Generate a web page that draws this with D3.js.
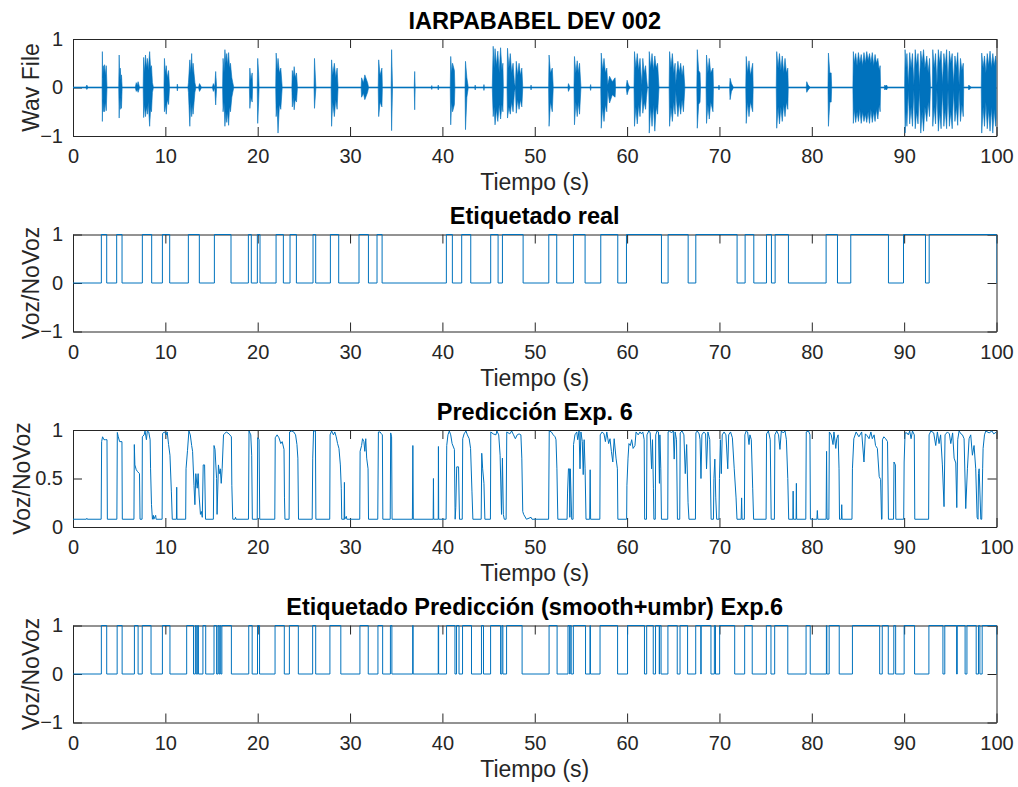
<!DOCTYPE html>
<html><head><meta charset="utf-8">
<script src="https://cdn.jsdelivr.net/npm/d3@7"></script>
<style>body{margin:0;background:#fff}svg{display:block}text{font-family:"Liberation Sans",Arial,Helvetica,sans-serif}</style>
</head><body><svg id="c" width="1018" height="787"></svg>
<script>
// ---------------- DATA ----------------
const xTicks = [0,10,20,30,40,50,60,70,80,90,100];
const yTicksWave = [-1,0,1];
const yTicksLabel = [-1,0,1];
const yTicksPred = [0,0.5,1];
const titles = ["IARPABABEL DEV 002","Etiquetado real","Predicción Exp. 6","Etiquetado Predicción (smooth+umbr) Exp.6"];
const yLabels = ["Wav File","Voz/NoVoz","Voz/NoVoz","Voz/NoVoz"];
const xLabel = "Tiempo (s)";

// waveform envelope: [time, max, min]
const wavEnvelope = [
[0,.01,-.01],[1.4,.01,-.01],[1.5,.05,-.04],[1.6,.01,-.01],
[3.15,.01,-.01],[3.18,.74,-.70],[3.22,.2,-.25],[3.28,.45,-.5],[3.35,.3,-.3],[3.42,.47,-.5],[3.5,.25,-.3],[3.6,.45,-.48],[3.68,.01,-.01],
[4.95,.01,-.01],[5.0,.67,-.63],[5.05,.2,-.2],[5.12,.4,-.45],[5.18,.15,-.2],[5.25,.26,-.43],[5.32,.01,-.01],
[6.75,.01,-.01],[6.85,.1,-.08],[6.95,.04,-.04],[7.05,.12,-.1],[7.2,.01,-.01],
[7.6,.01,-.01],[7.65,.62,-.62],[7.75,.3,-.35],[7.85,.67,-.6],[7.95,.4,-.4],[8.05,.6,-.55],[8.15,.35,-.3],[8.3,.74,-.8],[8.4,.4,-.45],[8.5,.45,-.5],[8.6,.1,-.1],[8.7,.01,-.01],
[9.85,.01,-.01],[9.9,.6,-.5],[10.0,.3,-.35],[10.1,.45,-.55],[10.2,.2,-.25],[10.35,.35,-.35],[10.45,.01,-.01],
[11.25,.01,-.01],[11.3,.07,-.07],[11.35,.01,-.01],
[12.45,.01,-.01],[12.5,.1,-.1],[12.65,.57,-.8],[12.75,.3,-.3],[12.85,.7,-.6],[12.92,.3,-.35],[13.0,.5,-.55],[13.2,.1,-.1],[13.3,.01,-.01],
[13.6,.01,-.01],[13.7,.08,-.08],[13.9,.01,-.01],
[15.1,.01,-.01],[15.2,.08,-.08],[15.35,.01,-.01],[15.45,.33,-.36],[15.55,.01,-.01],
[16.2,.01,-.01],[16.25,.6,-.5],[16.35,.3,-.3],[16.45,.78,-.8],[16.55,.5,-.5],[16.65,.7,-.72],[16.75,.45,-.5],[16.85,.72,-.78],[16.95,.4,-.4],[17.05,.5,-.5],[17.2,.2,-.2],[17.3,.1,-.1],[17.4,.01,-.01],
[19.1,.01,-.01],[19.15,.4,-.43],[19.25,.15,-.2],[19.4,.3,-.3],[19.45,.01,-.01],
[19.95,.01,-.01],[20.0,.6,-.74],[20.1,.3,-.3],[20.15,.01,-.01],
[21.95,.01,-.01],[22.0,.71,-.6],[22.1,.35,-.4],[22.2,.6,-.94],[22.35,.3,-.35],[22.5,.4,-.45],[22.65,.01,-.01],
[23.7,.01,-.01],[23.75,.35,-.4],[23.85,.2,-.2],[23.95,.43,-.46],[24.05,.2,-.25],[24.2,.3,-.3],[24.3,.01,-.01],
[26.1,.01,-.01],[26.15,.6,-.43],[26.3,.01,-.01],
[27.95,.01,-.01],[28.0,.57,-.8],[28.12,.25,-.3],[28.3,.5,-.6],[28.45,.2,-.25],[28.6,.4,-.45],[28.7,.01,-.01],
[31.2,.01,-.01],[31.25,.2,-.2],[31.45,.1,-.12],[31.6,.26,-.25],[31.9,.1,-.1],[32.0,.01,-.01],
[33.05,.01,-.01],[33.1,.57,-.6],[33.25,.25,-.3],[33.45,.4,-.4],[33.5,.01,-.01],
[34.45,.01,-.01],[34.5,.78,-.89],[34.6,.01,-.01],
[36.95,.01,-.01],[37.0,.33,-.46],[37.05,.01,-.01],
[38.8,.01,-.01],[38.85,.04,-.04],[38.9,.01,-.01],[39.5,.01,-.01],[39.55,.05,-.05],[39.6,.01,-.01],
[40.85,.01,-.01],[40.9,.64,-.77],[41.0,.3,-.3],[41.1,.5,-.5],[41.3,.35,-.35],[41.35,.01,-.01],
[42.45,.01,-.01],[42.5,.54,-.87],[42.65,.2,-.2],[42.8,.01,-.01],
[43.5,.01,-.01],[43.55,.05,-.05],[43.6,.01,-.01],[44.45,.01,-.01],[44.5,.06,-.06],[44.55,.01,-.01],
[45.4,.01,-.01],[45.5,.85,-.6],[45.6,.4,-.4],[45.7,.8,-.77],[45.85,.45,-.45],[46.0,.75,-.7],[46.15,.3,-.35],[46.3,.82,-.65],[46.45,.35,-.35],[46.55,.5,-.5],[46.6,.01,-.01],
[47.0,.01,-.01],[47.05,.81,-.63],[47.2,.4,-.4],[47.35,.7,-.55],[47.5,.3,-.3],[47.65,.5,-.5],[47.8,.1,-.1],[47.9,.01,-.01],
[48.0,.54,-.53],[48.15,.25,-.25],[48.3,.5,-.45],[48.45,.25,-.25],[48.6,.4,-.4],[48.7,.01,-.01],
[49.55,.01,-.01],[49.6,.05,-.05],[49.65,.01,-.01],
[51.5,.01,-.01],[51.55,.67,-.8],[51.7,.3,-.3],[51.9,.4,-.5],[52.0,.01,-.01],
[53.6,.01,-.01],[53.65,.08,-.08],[53.8,.01,-.01],
[54.25,.01,-.01],[54.3,.64,-.77],[54.45,.3,-.3],[54.6,.55,-.6],[54.7,.3,-.3],[54.85,.5,-.55],[55.0,.01,-.01],
[56.0,.01,-.01],[56.05,.06,-.06],[56.1,.01,-.01],
[57.15,.01,-.01],[57.2,.71,-.84],[57.35,.35,-.4],[57.5,.6,-.7],[57.65,.3,-.35],[57.8,.4,-.5],[57.9,.05,-.05],[58.1,.23,-.32],[58.4,.12,-.15],[58.7,.2,-.2],[58.75,.01,-.01],
[59.9,.01,-.01],[60.0,.15,-.15],[60.15,.05,-.05],[60.3,.01,-.01],
[60.75,.01,-.01],[60.8,.74,-.8],[60.95,.4,-.4],[61.1,.7,-.75],[61.25,.35,-.35],[61.4,.6,-.6],[61.5,.3,-.3],[61.6,.05,-.05],[61.7,.6,-.53],[61.85,.3,-.3],[62.0,.45,-.45],[62.1,.2,-.2],[62.2,.01,-.01],
[62.35,.01,-.01],[62.4,.74,-.94],[62.55,.4,-.4],[62.7,.7,-.8],[62.85,.35,-.35],[63.0,.65,-.9],[63.15,.4,-.4],[63.3,.5,-.55],[63.45,.01,-.01],
[64.55,.01,-.01],[64.6,.74,-.8],[64.75,.4,-.4],[64.9,.7,-.7],[65.05,.3,-.3],[65.2,.5,-.55],[65.25,.05,-.05],[65.5,.54,-.6],[65.65,.3,-.3],[65.8,.5,-.55],[65.95,.25,-.25],[66.1,.45,-.5],[66.25,.01,-.01],
[67.55,.01,-.01],[67.6,.78,-.84],[67.75,.35,-.35],[67.9,.3,-.3],[67.95,.01,-.01],
[68.55,.01,-.01],[68.6,.67,-.74],[68.75,.3,-.35],[68.9,.6,-.65],[69.05,.3,-.3],[69.3,.4,-.5],[69.35,.01,-.01],
[69.9,.01,-.01],[69.95,.05,-.05],[70.0,.01,-.01],
[71.1,.01,-.01],[71.15,.19,-.25],[71.3,.08,-.08],[71.5,.01,-.01],
[72.85,.01,-.01],[72.9,.64,-.74],[73.05,.3,-.3],[73.2,.55,-.6],[73.35,.25,-.3],[73.6,.5,-.5],[73.65,.01,-.01],
[76.15,.01,-.01],[76.2,.74,-.84],[76.35,.4,-.4],[76.5,.7,-.75],[76.65,.35,-.4],[76.8,.65,-.7],[76.95,.3,-.35],[77.1,.6,-.6],[77.25,.3,-.3],[77.4,.4,-.45],[77.45,.01,-.01],
[79.4,.01,-.01],[79.45,.12,-.1],[79.6,.05,-.05],[79.8,.01,-.01],
[81.75,.01,-.01],[81.8,.71,-.8],[81.95,.3,-.3],[82.1,.3,-.3],[82.15,.01,-.01],
[84.45,.01,-.01],[84.5,.74,-.74],[84.6,.5,-.45],[84.75,.7,-.72],[84.9,.45,-.5],[85.05,.72,-.7],[85.2,.5,-.45],[85.35,.68,-.74],[85.5,.45,-.5],[85.65,.72,-.7],[85.8,.5,-.55],[85.95,.74,-.72],[86.1,.55,-.5],[86.25,.7,-.74],[86.4,.5,-.45],[86.55,.72,-.72],[86.7,.45,-.5],[86.85,.68,-.7],[87.0,.5,-.45],[87.15,.6,-.65],[87.3,.35,-.35],[87.4,.45,-.5],[87.45,.01,-.01],
[87.85,.01,-.01],[87.9,.05,-.05],[88.0,.03,-.03],[88.1,.05,-.05],[88.2,.01,-.01],
[90.05,.01,-.01],[90.1,.78,-.94],[90.2,.4,-.5],[90.3,.7,-.8],[90.45,.05,-.05],[90.6,.72,-.75],[90.75,.4,-.4],[90.9,.7,-.8],[91.05,.05,-.05],[91.2,.78,-.85],[91.35,.45,-.5],[91.5,.7,-.75],[91.65,.05,-.05],[91.8,.75,-.94],[91.95,.5,-.5],[92.1,.78,-.9],[92.25,.4,-.4],[92.45,.65,-.7],[92.6,.3,-.3],[92.75,.6,-.6],[92.85,.01,-.01],
[93.05,.01,-.01],[93.1,.78,-.8],[93.25,.4,-.4],[93.4,.7,-.75],[93.55,.05,-.05],[93.7,.78,-.9],[93.85,.5,-.5],[94.0,.75,-.85],[94.15,.05,-.05],[94.3,.7,-.8],[94.45,.45,-.45],[94.6,.78,-.85],[94.75,.05,-.05],[94.9,.75,-.8],[95.05,.5,-.5],[95.2,.7,-.85],[95.35,.05,-.05],[95.5,.65,-.7],[95.65,.4,-.4],[95.8,.72,-.78],[95.95,.05,-.05],[96.1,.6,-.7],[96.25,.35,-.35],[96.4,.5,-.6],[96.45,.01,-.01],
[96.95,.01,-.01],[97.0,.05,-.05],[97.15,.02,-.02],[97.3,.01,-.01],
[98.35,.01,-.01],[98.4,.71,-.94],[98.55,.4,-.4],[98.7,.65,-.8],[98.85,.3,-.3],[99.0,.7,-.85],[99.15,.45,-.45],[99.3,.75,-.9],[99.45,.4,-.4],[99.6,.7,-.94],[99.75,.45,-.45],[99.9,.65,-.8],[100,.5,-.6]
];

// ground-truth voice intervals [start, end]
const realIntervals = [[3.07,3.65],[4.73,5.31],[7.51,8.52],[9.68,10.47],[12.49,13.68],[15.31,17.11],[18.99,19.31],[19.96,20.25],[21.99,22.78],[23.50,24.19],[25.99,26.28],[27.87,28.77],[30.97,31.99],[32.92,33.47],[40.43,41.08],[42.09,43.07],[45.23,46.03],[46.50,48.74],[51.52,52.38],[54.19,55.45],[57.15,58.99],[59.93,63.72],[64.44,66.61],[67.44,71.91],[72.78,73.72],[75.09,75.63],[76.03,77.47],[81.55,82.78],[84.22,88.30],[89.93,92.31],[92.71,100]];

// network prediction [time, value]
const predPoints = [
[0,.08],[1.45,.08],[1.5,.09],[1.55,.08],[3.05,.08],[3.1,.88],[3.2,.93],[3.35,.9],[3.5,.9],[3.68,.9],[3.72,.08],
[4.75,.08],[4.8,.975],[4.9,.93],[5.05,.88],[5.3,.88],[5.34,.08],
[6.6,.08],[6.64,.85],[6.7,.64],[6.85,.59],[7.0,.57],[7.2,.55],[7.26,.08],
[7.48,.08],[7.51,.93],[7.7,.95],[7.8,.99],[7.95,.9],[8.05,.99],[8.2,.98],[8.35,.9],[8.4,.6],[8.5,.23],[8.6,.08],[8.7,.12],[8.75,.08],[8.95,.12],[9.0,.08],
[9.65,.08],[9.7,.965],[9.9,.98],[10.1,.95],[10.2,.98],[10.35,.85],[10.5,.74],[10.65,.37],[10.75,.08],
[11.2,.08],[11.23,.41],[11.26,.08],
[12.2,.08],[12.24,.6],[12.4,.79],[12.55,.99],[12.7,.95],[12.85,.84],[12.95,.78],[13.1,.43],[13.2,.23],[13.3,.55],[13.45,.4],[13.55,.55],[13.65,.33],[13.8,.13],[13.9,.16],[14.0,.1],[14.1,.64],[14.25,.64],[14.35,.08],
[15.2,.08],[15.27,.84],[15.38,.8],[15.45,.67],[15.55,.5],[15.6,.13],[15.75,.64],[15.85,.55],[15.95,.6],[16.05,.45],[16.15,.6],[16.3,.95],[16.6,.98],[16.9,.96],[17.15,.93],[17.2,.43],[17.3,.08],
[17.55,.08],[17.6,.1],[17.65,.08],
[19.0,.08],[19.06,.99],[19.25,.95],[19.35,.74],[19.42,.08],
[19.95,.08],[20.0,.92],[20.15,.9],[20.22,.08],
[21.85,.08],[21.9,.92],[22.1,.95],[22.3,.92],[22.5,.86],[22.65,.88],[22.85,.8],[22.9,.3],[22.95,.08],
[23.4,.08],[23.45,.98],[23.7,.99],[23.9,.98],[24.1,.95],[24.25,.85],[24.35,.71],[24.42,.08],
[25.9,.08],[25.96,.71],[26.05,.99],[26.25,.99],[26.3,.08],
[27.8,.08],[27.84,.95],[28.0,.99],[28.2,.95],[28.35,.98],[28.5,.93],[28.65,.86],[28.8,.81],[28.95,.64],[29.05,.4],[29.1,.08],
[29.36,.08],[29.39,.46],[29.42,.08],[29.6,.11],[29.65,.08],
[31.05,.08],[31.09,.78],[31.25,.84],[31.35,.91],[31.5,.88],[31.6,.78],[31.7,.91],[31.8,.71],[31.95,.6],[32.0,.08],
[33.0,.08],[33.07,.98],[33.25,.98],[33.4,.96],[33.5,.95],[33.55,.08],
[34.35,.08],[34.4,.97],[34.5,.93],[34.55,.08],
[36.75,.08],[36.8,.84],[36.85,.08],
[39.0,.08],[39.03,.5],[39.06,.08],[39.55,.08],[39.57,.83],[39.6,.08],
[40.4,.08],[40.47,.84],[40.6,.95],[40.75,.99],[40.9,.95],[41.05,.86],[41.3,.8],[41.38,.08],[41.45,.2],[41.55,.62],[41.75,.62],[41.85,.08],
[42.15,.08],[42.2,.91],[42.35,.96],[42.55,.99],[42.7,.95],[42.9,.91],[43.05,.81],[43.2,.37],[43.3,.08],
[44.2,.08],[44.26,.76],[44.36,.6],[44.5,.45],[44.6,.08],
[45.2,.08],[45.24,.98],[45.5,.96],[45.8,.95],[45.9,.99],[46.1,.95],[46.25,.74],[46.4,.13],[46.5,.71],[46.6,.13],[46.7,.08],
[46.9,.08],[46.97,.98],[47.3,.96],[47.5,.99],[47.7,.95],[47.9,.91],[48.1,.95],[48.3,.96],[48.5,.95],[48.6,.71],[48.7,.16],[48.8,.13],[49.1,.08],[49.6,.1],[49.7,.08],
[51.5,.08],[51.57,.99],[51.8,.98],[52.0,.95],[52.2,.93],[52.3,.9],[52.4,.6],[52.5,.08],
[53.5,.08],[53.55,.35],[53.65,.6],[53.75,.6],[53.8,.1],[53.85,.6],[54.0,.08],
[54.15,.08],[54.2,.85],[54.35,.95],[54.55,.98],[54.65,.9],[54.8,.99],[54.9,.6],[55.0,.98],[55.15,.88],[55.25,.54],[55.35,.9],[55.45,.6],[55.55,.08],
[55.95,.08],[56.0,.59],[56.05,.08],
[57.05,.08],[57.09,.95],[57.3,.98],[57.5,.96],[57.65,.88],[57.8,.98],[58.0,.86],[58.15,.91],[58.3,.78],[58.45,.67],[58.6,.91],[58.8,.71],[58.95,.6],[59.0,.08],
[59.95,.08],[59.98,.43],[60.1,.71],[60.2,.86],[60.35,.84],[60.5,.9],[60.65,.81],[60.85,.84],[60.97,.98],[61.2,.95],[61.4,.98],[61.55,.96],[61.7,.98],[61.85,.9],[61.9,.08],
[62.1,.08],[62.15,.95],[62.35,.99],[62.5,.97],[62.65,.6],[62.75,.9],[62.85,.4],[62.9,.08],
[63.05,.08],[63.1,.95],[63.25,.99],[63.4,.98],[63.5,.45],[63.55,.95],[63.65,.6],[63.72,.08],
[64.4,.08],[64.44,.98],[64.6,.99],[64.8,.97],[65.0,.99],[65.1,.7],[65.2,.98],[65.35,.9],[65.45,.08],
[65.7,.08],[65.75,.97],[65.95,.99],[66.15,.95],[66.3,.55],[66.45,.85],[66.6,.25],[66.7,.08],
[67.4,.08],[67.45,.97],[67.6,.99],[67.8,.96],[67.9,.9],[68.0,.5],[68.1,.95],[68.3,.98],[68.5,.96],[68.6,.6],[68.75,.98],[68.95,.9],[69.1,.08],
[69.35,.08],[69.4,.5],[69.5,.7],[69.6,.3],[69.7,.08],
[69.95,.08],[70.0,.5],[70.1,.9],[70.2,.55],[70.3,.95],[70.5,.98],[70.7,.95],[70.9,.6],[71.0,.95],[71.2,.98],[71.4,.92],[71.6,.6],[71.8,.3],[71.9,.08],
[72.35,.08],[72.4,.3],[72.45,.08],
[72.7,.08],[72.75,.95],[72.9,.99],[73.05,.98],[73.2,.85],[73.3,.95],[73.45,.9],[73.6,.4],[73.7,.08],
[75.05,.08],[75.1,.96],[75.3,.99],[75.5,.9],[75.6,.08],
[75.95,.08],[76.0,.95],[76.2,.99],[76.4,.95],[76.55,.8],[76.7,.99],[76.9,.97],[77.1,.99],[77.25,.9],[77.4,.5],[77.5,.08],
[77.95,.08],[77.98,.37],[78.01,.08],[78.3,.08],[78.33,.45],[78.36,.08],
[79.35,.08],[79.4,.98],[79.65,.99],[79.8,.95],[79.85,.08],
[80.55,.08],[80.6,.17],[80.65,.08],
[81.55,.08],[81.6,.78],[81.65,.08],
[81.85,.08],[81.9,.98],[82.1,.95],[82.3,.85],[82.4,.98],[82.6,.81],[82.7,.91],[82.85,.95],[82.95,.6],[83.0,.08],
[83.2,.08],[83.24,.23],[83.28,.08],
[84.35,.08],[84.4,.6],[84.55,.91],[84.8,.98],[85.1,.93],[85.4,.98],[85.65,.67],[85.8,.96],[86.0,.94],[86.2,.91],[86.4,.98],[86.55,.91],[86.75,.95],[86.9,.84],[87.1,.81],[87.3,.52],[87.45,.49],[87.55,.08],
[87.6,.08],[87.65,.9],[87.8,.93],[88.0,.91],[88.2,.88],[88.3,.08],
[88.85,.08],[88.9,.67],[89.05,.64],[89.1,.08],
[89.95,.08],[90.0,.67],[90.1,.97],[90.3,.97],[90.45,.95],[90.6,.99],[90.75,.91],[90.9,.99],[91.1,.95],[91.15,.08],
[92.65,.08],[92.7,.95],[92.9,.99],[93.2,.97],[93.42,.84],[93.6,.98],[93.78,.86],[93.95,.95],[94.14,.64],[94.32,.21],[94.43,.95],[94.69,.98],[94.9,.96],[95.05,.86],[95.25,.97],[95.41,.71],[95.59,.66],[95.7,.2],[95.8,.9],[95.95,.99],[96.15,.96],[96.31,.95],[96.49,.91],[96.67,.19],[96.85,.6],[97.03,.91],[97.21,.95],[97.39,.74],[97.57,.84],[97.75,.6],[97.9,.1],[98.0,.08],[98.05,.55],[98.12,.6],[98.3,.08],[98.4,.08],[98.5,.6],[98.55,.81],[98.7,.95],[98.84,.99],[99.2,.97],[99.5,.99],[99.7,.96],[100,.98]
];

// smoothed + thresholded prediction voice intervals [start, end]
const predIntervals = [[3.07,3.65],[4.78,5.32],[6.65,7.05],[7.5,8.45],[9.68,10.5],[12.31,13.05],[13.25,13.35],[13.5,13.58],[14.07,14.37],[15.27,15.55],[15.7,15.8],[15.9,16.0],[16.12,17.15],[19.03,19.4],[19.98,20.2],[21.88,22.88],[23.43,24.4],[25.95,26.28],[27.82,29.0],[31.07,31.97],[33.02,33.53],[34.37,34.53],[36.78,36.83],[39.55,39.59],[40.45,41.36],[41.53,41.8],[42.18,43.15],[44.23,44.45],[45.22,46.3],[46.45,46.55],[46.95,48.63],[51.55,52.42],[53.6,53.78],[53.83,53.95],[54.18,55.5],[55.98,56.03],[57.07,58.97],[60.05,61.88],[62.12,62.83],[63.08,63.48],[63.52,63.68],[64.42,65.43],[65.73,66.55],[67.43,67.98],[68.02,69.08],[69.45,69.57],[70.02,71.65],[72.73,73.55],[75.08,75.58],[75.98,77.4],[79.38,79.83],[81.58,81.63],[81.88,82.97],[84.4,87.35],[87.63,88.28],[88.88,89.08],[90.0,91.13],[92.68,94.2],[94.4,95.68],[95.75,96.6],[96.8,97.8],[98.05,98.2],[98.45,100]];

// ---------------- DRAW ----------------
const svg = d3.select("#c");
const blue = "#0072BD", axc = "#262626";
const L = 73, R = 996.5, PH = 97;
const tops = [39, 234.5, 430, 625.5];
const x = d3.scaleLinear().domain([0,100]).range([L,R]);
const TICK = 9, FT = 20, FL = 23, FTI = 23.5;

function stepPoints(intervals){
  const pts = [[0,0]];
  intervals.forEach(([s,e]) => { pts.push([s,0],[s,1],[e,1],[e,0]); });
  pts.push([100,0]);
  return pts;
}

function makePanel(i, ydom, yticks, fmt, ylabX){
  const top = tops[i], bot = top + PH;
  const y = d3.scaleLinear().domain(ydom).range([bot, top]);
  const g = svg.append("g");
  g.append("clipPath").attr("id","clip"+i).append("rect")
    .attr("x",L).attr("y",top-1).attr("width",R-L).attr("height",PH+2);

  const ax = g.append("g").attr("class","axes");
  const xb = ax.append("g").attr("transform",`translate(0,${bot})`)
    .call(d3.axisBottom(x).tickValues(xTicks).tickSizeInner(-TICK).tickSizeOuter(0).tickFormat(d3.format("d")));
  xb.selectAll("text").attr("y",27).attr("dy",null).attr("font-size",FT);
  ax.append("g").attr("transform",`translate(0,${top})`)
    .call(d3.axisTop(x).tickValues(xTicks).tickSizeInner(-TICK).tickSizeOuter(0).tickFormat(""));
  const yl = ax.append("g").attr("transform",`translate(${L},0)`)
    .call(d3.axisLeft(y).tickValues(yticks).tickSizeInner(-TICK).tickSizeOuter(0).tickPadding(10).tickFormat(fmt));
  yl.selectAll("text").attr("font-size",FT);
  ax.append("g").attr("transform",`translate(${R},0)`)
    .call(d3.axisRight(y).tickValues(yticks).tickSizeInner(-TICK).tickSizeOuter(0).tickFormat(""));
  ax.selectAll("path.domain").attr("stroke",axc).attr("stroke-width",1);
  ax.selectAll(".tick line").attr("stroke",axc);
  ax.selectAll("text").attr("fill",axc).attr("font-family","Liberation Sans, Arial, sans-serif");

  const plot = g.append("g").attr("clip-path",`url(#clip${i})`);

  g.append("text").attr("x",(L+R)/2).attr("y",top-10.5).attr("text-anchor","middle")
    .attr("font-size",FTI).attr("font-weight","bold").attr("fill","#000").text(titles[i]);
  g.append("text").attr("x",(L+R)/2).attr("y",bot+54).attr("text-anchor","middle")
    .attr("font-size",FL).attr("fill",axc).text(xLabel);
  g.append("text").attr("transform",`translate(${ylabX},${(top+bot)/2}) rotate(-90)`)
    .attr("text-anchor","middle").attr("font-size",FL).attr("fill",axc).text(yLabels[i]);
  return {plot, y};
}

// Panel 1: waveform
{
  const {plot, y} = makePanel(0, [-1,1], yTicksWave, d3.format("d"), 39);
  const area = d3.area().x(d => x(d[0])).y0(d => y(d[2])).y1(d => y(d[1]));
  plot.append("path").datum(wavEnvelope).attr("d",area).attr("fill",blue)
    .attr("stroke",blue).attr("stroke-width",0.6).attr("stroke-linejoin","miter");
}
// Panel 2: real labels
{
  const {plot, y} = makePanel(1, [-1,1], yTicksLabel, d3.format("d"), 39);
  const line = d3.line().x(d => x(d[0])).y(d => y(d[1]));
  plot.append("path").datum(stepPoints(realIntervals)).attr("d",line)
    .attr("fill","none").attr("stroke",blue).attr("stroke-width",1);
}
// Panel 3: prediction
{
  const {plot, y} = makePanel(2, [0,1], yTicksPred, d => d===0.5 ? "0.5" : d3.format("d")(d), 30);
  const line = d3.line().x(d => x(d[0])).y(d => y(d[1]));
  plot.append("path").datum(predPoints).attr("d",line)
    .attr("fill","none").attr("stroke",blue).attr("stroke-width",1);
}
// Panel 4: predicted labels
{
  const {plot, y} = makePanel(3, [-1,1], yTicksLabel, d3.format("d"), 39);
  const line = d3.line().x(d => x(d[0])).y(d => y(d[1]));
  plot.append("path").datum(stepPoints(predIntervals)).attr("d",line)
    .attr("fill","none").attr("stroke",blue).attr("stroke-width",1);
}
</script></body></html>
